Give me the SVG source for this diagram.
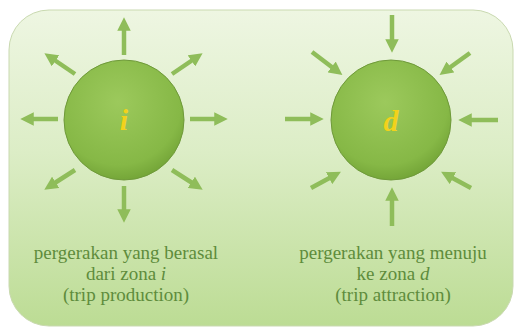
<svg xmlns="http://www.w3.org/2000/svg" width="516" height="333" viewBox="0 0 516 333">
  <defs>
    <linearGradient id="panelFill" x1="0" y1="0" x2="0" y2="1">
      <stop offset="0" stop-color="#eef6e2"/>
      <stop offset="0.45" stop-color="#dcedc6"/>
      <stop offset="1" stop-color="#bcdc94"/>
    </linearGradient>
    <radialGradient id="ballFill" cx="0.45" cy="0.35" r="0.7">
      <stop offset="0" stop-color="#9cc95c"/>
      <stop offset="0.75" stop-color="#86b846"/>
      <stop offset="1" stop-color="#6e9f33"/>
    </radialGradient>
    <marker id="head" viewBox="0 0 10 10" refX="5" refY="5" markerWidth="3" markerHeight="3" orient="auto" markerUnits="strokeWidth">
      <path d="M0,0 L10,5 L0,10 Z" fill="#8fbd5a"/>
    </marker>
    <filter id="soft" x="-10%" y="-10%" width="120%" height="120%">
      <feGaussianBlur stdDeviation="0.6"/>
    </filter>
  </defs>
  <style>
    .arrow { stroke: #8fbd5a; stroke-width: 4.5; fill: none; marker-end: url(#head); }
    .label { font-family: "Liberation Serif", "Times New Roman", serif; font-size: 19px; fill: #5e8c3c; text-anchor: middle; }
    .letter { font-family: "Liberation Serif", "Times New Roman", serif; font-size: 30px; font-weight: bold; font-style: italic; fill: #f2d21a; text-anchor: middle; }
  </style>

  <rect width="516" height="333" fill="#ffffff"/>

  <!-- background panel -->
  <g id="panel">
    <rect x="9" y="10" width="504" height="316" rx="40" ry="40" fill="url(#panelFill)" stroke="#c9d9b0" stroke-width="1"/>
  </g>

  <!-- connectors: outward arrows around i, inward arrows around d -->
  <g id="connectors" filter="url(#soft)">
    <line class="arrow" x1="124" y1="55" x2="124" y2="24"/>
    <line class="arrow" x1="124" y1="186" x2="124" y2="216"/>
    <line class="arrow" x1="58" y1="119" x2="27" y2="119"/>
    <line class="arrow" x1="190" y1="119" x2="221" y2="119"/>
    <line class="arrow" x1="75" y1="74" x2="50" y2="57"/>
    <line class="arrow" x1="172" y1="74" x2="197" y2="57"/>
    <line class="arrow" x1="75" y1="170" x2="50" y2="186"/>
    <line class="arrow" x1="172" y1="170" x2="197" y2="186"/>

    <line class="arrow" x1="392" y1="15" x2="392" y2="46"/>
    <line class="arrow" x1="392" y1="226" x2="392" y2="194"/>
    <line class="arrow" x1="285" y1="119" x2="317" y2="119"/>
    <line class="arrow" x1="498" y1="120" x2="465" y2="120"/>
    <line class="arrow" x1="312" y1="52" x2="337" y2="71"/>
    <line class="arrow" x1="470" y1="53" x2="445" y2="71"/>
    <line class="arrow" x1="311" y1="188" x2="335" y2="175"/>
    <line class="arrow" x1="471" y1="188" x2="447" y2="175"/>
  </g>

  <!-- zone i (production) -->
  <g id="node-i">
    <circle cx="124" cy="120" r="60" fill="url(#ballFill)" stroke="#6f9a3a" stroke-width="1"/>
    <text class="letter" x="124" y="130">i</text>
    <text class="label" x="126" y="259">pergerakan yang berasal</text>
    <text class="label" x="126" y="280">dari zona <tspan font-style="italic">i</tspan></text>
    <text class="label" x="126" y="301">(trip production)</text>
  </g>

  <!-- zone d (attraction) -->
  <g id="node-d">
    <circle cx="391" cy="120" r="60" fill="url(#ballFill)" stroke="#6f9a3a" stroke-width="1"/>
    <text class="letter" x="391" y="131">d</text>
    <text class="label" x="393" y="259">pergerakan yang menuju</text>
    <text class="label" x="393" y="280">ke zona <tspan font-style="italic">d</tspan></text>
    <text class="label" x="393" y="301">(trip attraction)</text>
  </g>
</svg>
